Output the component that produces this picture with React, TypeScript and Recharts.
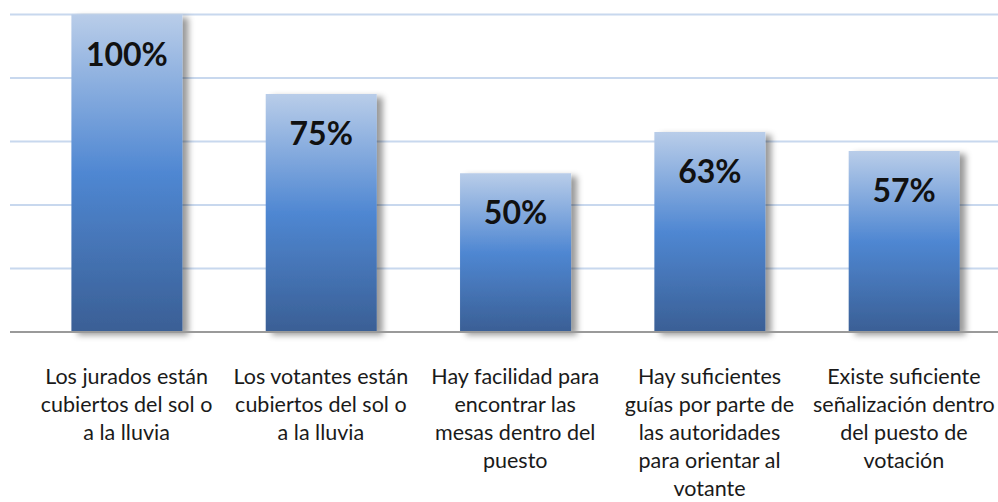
import { BarChart, Bar, XAxis, YAxis, CartesianGrid, LabelList } from "recharts";

const categories = [
  "Los jurados están cubiertos del sol o a la lluvia",
  "Los votantes están cubiertos del sol o a la lluvia",
  "Hay facilidad para encontrar las mesas dentro del puesto",
  "Hay suficientes guías por parte de las autoridades para orientar al votante",
  "Existe suficiente señalización dentro del puesto de votación",
];

// how each category label wraps under the axis
const labelLines: string[][] = [
  ["Los jurados están", "cubiertos del sol o", "a la lluvia"],
  ["Los votantes están", "cubiertos del sol o", "a la lluvia"],
  ["Hay facilidad para", "encontrar las", "mesas dentro del", "puesto"],
  ["Hay suficientes", "guías por parte de", "las autoridades", "para orientar al", "votante"],
  ["Existe suficiente", "señalización dentro", "del puesto de", "votación"],
];

const percentages = [100, 75, 50, 63, 57];

const yTicks = [0, 20, 40, 60, 80, 100];

const data = categories.map((name, i) => ({ name, idx: i, value: percentages[i] }));

const FONT = "Lato, 'Open Sans', sans-serif";

function CategoryTick(props: any) {
  const { x, y, payload } = props;
  const lines = labelLines[payload.index] ?? [String(payload.value)];
  return (
    <g transform={`translate(${x},${y})`}>
      {lines.map((ln, i) => (
        <text
          key={i}
          x={0}
          y={44 + i * 28}
          textAnchor="middle"
          fontFamily={FONT}
          fontSize={21.5}
          fill="#1a1a1a"
        >
          {ln}
        </text>
      ))}
    </g>
  );
}

function ValueLabel(props: any) {
  const { x, y, width, value } = props;
  return (
    <text
      x={x + width / 2}
      y={y + 51}
      textAnchor="middle"
      fontFamily={FONT}
      fontWeight="bold"
      fontSize={32}
      fill="#111"
    >
      {`${value}%`}
    </text>
  );
}

export default function App() {
  return (
    <div style={{ position: "absolute", left: 0, top: 0, width: 998, height: 502, overflow: "hidden", background: "#fff" }}>
      <BarChart
        width={1010}
        height={502}
        data={data}
        margin={{ top: 14.5, right: 9, left: 10, bottom: 140 }}
        barSize={111}
      >
        <defs>
          <linearGradient id="barFill" x1="0" y1="0" x2="0" y2="1">
            <stop offset="0%" stopColor="#b9cde9" />
            <stop offset="50%" stopColor="#4f87d2" />
            <stop offset="100%" stopColor="#3a5f95" />
          </linearGradient>
          <filter id="barShadow" x="-20%" y="-20%" width="150%" height="150%">
            <feDropShadow dx="6" dy="3" stdDeviation="3" floodColor="#000" floodOpacity="0.4" />
          </filter>
        </defs>
        <CartesianGrid vertical={false} stroke="#c8d8ee" strokeWidth={2} />
        <XAxis
          dataKey="name"
          padding={{ left: 19.4, right: 0 }}
          axisLine={{ stroke: "#9a9a9a", strokeWidth: 2 }}
          tickLine={false}
          interval={0}
          tick={<CategoryTick />}
        />
        <YAxis hide domain={[0, 100]} ticks={yTicks} />
        <Bar dataKey="value" fill="url(#barFill)" filter="url(#barShadow)" isAnimationActive={false}>
          <LabelList dataKey="value" content={<ValueLabel />} />
        </Bar>
      </BarChart>
    </div>
  );
}
